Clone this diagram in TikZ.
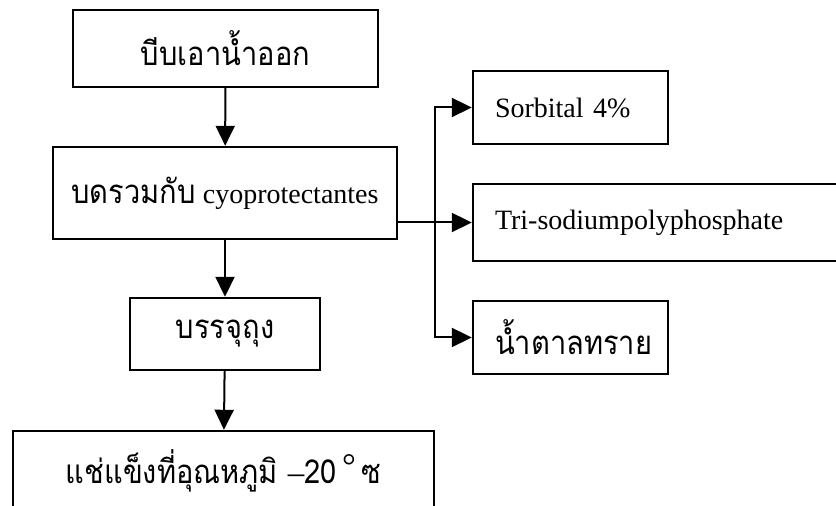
\documentclass[tikz,border=0pt]{standalone}
\usepackage{fontspec}
\setmainfont{Liberation Serif}
\newfontfamily\thaifont[Script=Thai, FakeStretch=0.88]{Loma}
\usetikzlibrary{arrows.meta}

\begin{document}
\begin{tikzpicture}[x=0.5pt, y=-0.5pt,
  box/.style  = {draw, line width=1.2pt, inner sep=0pt, align=center,
                 font=\fontsize{14}{16}\selectfont},
  sbox/.style = {box, align=left, inner xsep=11pt},
  thaitxt/.style = {font=\thaifont\fontsize{16.5}{19}\selectfont},
  arr/.style  = {-{Triangle[length=10pt,width=9.5pt]}, line width=1pt},
  darr/.style = {{Triangle[length=10pt,width=9.5pt]}-{Triangle[length=10pt,width=9.5pt]},
                 line width=1pt},
]

%% ── Frame ───────────────────────────────────────────────────────────────────
\useasboundingbox (0,0) rectangle (836,506);
\clip (0,0) rectangle (836,506);

%% ── Main steps ──────────────────────────────────────────────────────────────
\node[box, thaitxt, minimum width=152.5pt, minimum height=38.5pt]
  (squeeze) at (225.5, 48.5) {บีบเอาน้ำออก};
\node[box, minimum width=172pt, minimum height=46pt]
  (mix) at (225, 193) {{\thaifont\fontsize{16.5}{19}\selectfont บดรวมกับ} cyoprotectantes};
\node[box, thaitxt, minimum width=95pt, minimum height=36pt]
  (pack) at (225, 334) {บรรจุถุง};
\node[box, thaitxt, minimum width=210.5pt, minimum height=39.5pt]
  (freeze) at (223.5, 470.5)
  {แช่แข็งที่อุณหภูมิ {\rmfamily –}20\,\raisebox{3pt}{\rmfamily\LARGE °}\,ซ};

%% ── Cryoprotectants ─────────────────────────────────────────────────────────
\node[sbox, text width=75.5pt, minimum height=36.5pt]
  (sorb) at (570.5, 107.5) {Sorbital 4\%};
\node[sbox, text width=166.5pt, minimum height=38.5pt]
  (tri) at (661.5, 222.5) {Tri-sodiumpolyphosphate};
\node[sbox, thaitxt, text width=75.5pt, minimum height=36.5pt]
  (sugar) at (570.5, 337.5) {น้ำตาลทราย};

\coordinate (jn) at (435, 223);

%% ── Connectors ──────────────────────────────────────────────────────────────
\draw[arr] (squeeze) -- (mix);
\draw[arr] (mix) -- (pack);
\draw[arr] (pack) -- (freeze);
\draw[arr] (mix.east |- tri.west) -- (tri.west);
\draw[darr] (sorb.west) -| (jn) |- (sugar.west);

\end{tikzpicture}
\end{document}
